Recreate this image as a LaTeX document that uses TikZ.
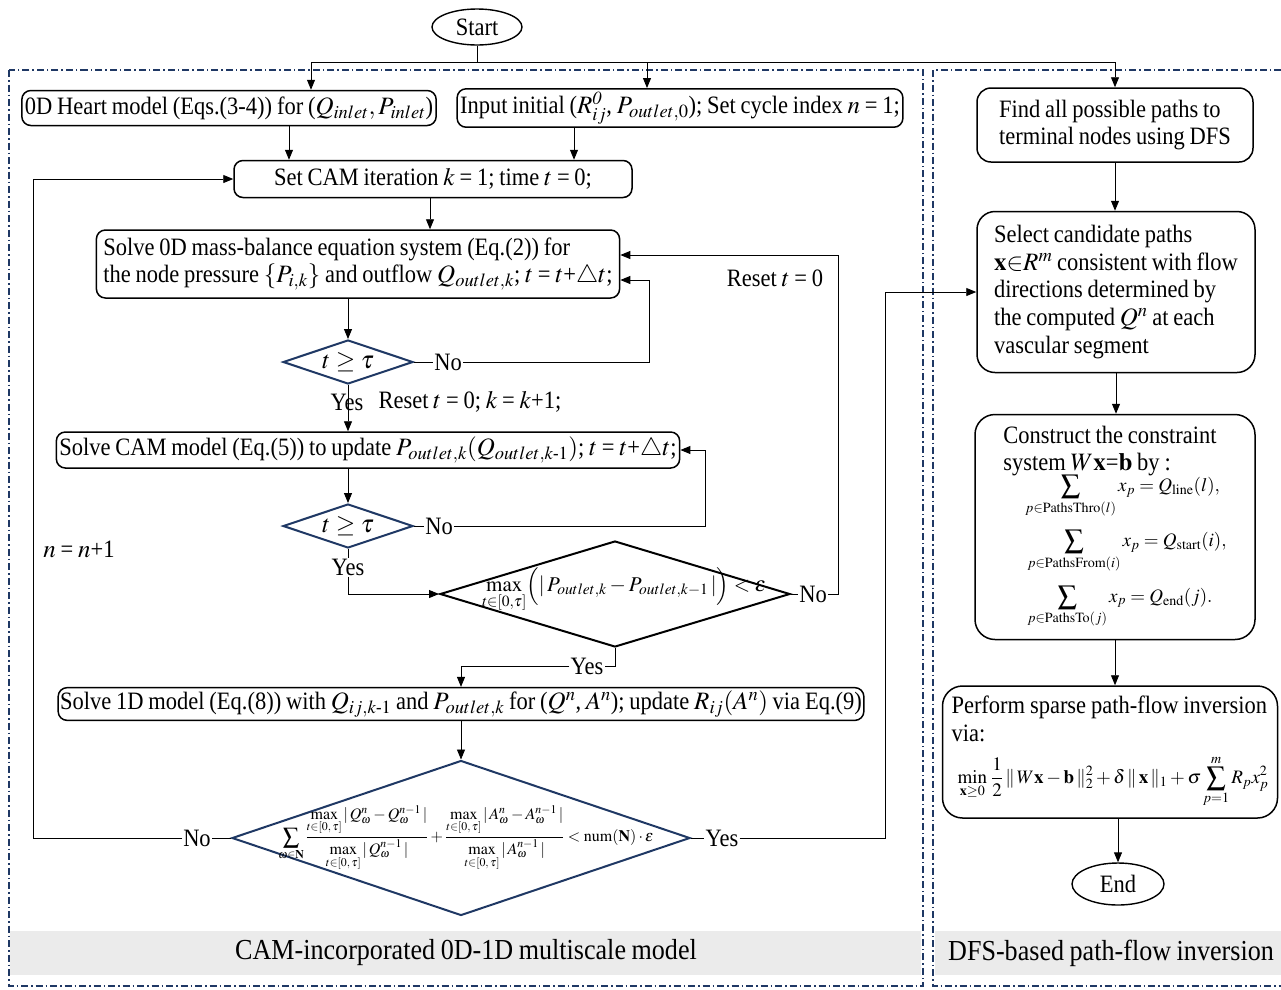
\documentclass[tikz,border=0pt]{standalone}
\usepackage{amsmath}
\usepackage{mathptmx}
\usepackage{fontspec}
\setmainfont{Liberation Serif}[FakeStretch=0.9, WordSpace=0.85]
\usetikzlibrary{shapes.geometric,arrows.meta,calc}
\definecolor{navy}{HTML}{1F3864}
\definecolor{bandgray}{HTML}{EBEBEB}
\begin{document}
\begin{tikzpicture}[x=1pt,y=-1pt,
  every node/.style={font=\fontsize{25}{27.7}\selectfont},
  box/.style={draw, rounded corners=9pt, line width=1.5pt, inner xsep=3pt, inner ysep=3pt},
  dia/.style={diamond, draw=navy, line width=2pt, inner sep=0pt},
  term/.style={ellipse, draw, line width=1.4pt, inner sep=0pt},
  arr/.style={-{Triangle[length=10pt,width=8pt]}, line width=0.9pt},
  ln/.style={line width=0.9pt},
  frame/.style={draw=navy, line width=1.3pt, dash pattern=on 7pt off 3pt on 1.5pt off 3pt},
  captxt/.style={font=\fontsize{29}{32}\selectfont},
  lab/.style={inner sep=1pt}]
\useasboundingbox (0,0) rectangle (1281,989);
% bands and frames
\fill[bandgray] (10,931) rectangle (921,975);
\fill[bandgray] (935,931) rectangle (1281,975);
\draw[frame] (9,70) rectangle (923,986);
\draw[frame] (1281,70) -- (933,70) -- (933,986) -- (1281,986);
\node[captxt] (capL) at (466,953) {CAM-incorporated 0D-1D multiscale model};
\node[captxt] (capR) at (1111,953) {DFS-based path-flow inversion};
% helper coordinates
\coordinate (jL) at (311,62);
\coordinate (jM) at (647,62);
\coordinate (jR) at (1115,62);
\coordinate (xA) at (289,0);
\coordinate (xB) at (574,0);
\coordinate (xC) at (430,0);
% left column nodes
\node[term, minimum width=90, minimum height=36] (start) at (477,27) {Start};
\node[box, minimum height=35] (b1) at (229,108) {0D Heart model (Eqs.(3-4)) for ($Q_{inlet}, P_{inlet}$)};
\node[box, minimum height=35] (b2) at (680,108) {Input initial ($R^{\mathit{0}}_{ij}$, $P_{outlet,0}$); Set cycle index $n$ = 1;};
\node[box, minimum width=398, minimum height=37] (b3) at (433,179) {Set CAM iteration $k$ = 1; time $t$ = 0;};
\node[box, align=left, inner xsep=7pt, minimum height=68] (b4) at (358,264) {Solve 0D mass-balance equation system (Eq.(2)) for\\the node pressure $\{P_{i,k}\}$ and outflow $Q_{outlet,k}$; $t$ = $t$+$\triangle t$;};
\node[dia, minimum width=130, minimum height=44] (d1) at (348,362) {};
\node (d1t) at (d1) {$t\geq\tau$};
\node[box, minimum height=36] (b5) at (368,450) {Solve CAM model (Eq.(5)) to update $P_{outlet,k}(Q_{outlet,k\text{-}1})$; $t$ = $t$+$\triangle t$;};
\node[dia, minimum width=130, minimum height=44] (d2) at (348,526) {};
\node (d2t) at (d2) {$t\geq\tau$};
\node[dia, draw=black, minimum width=350, minimum height=106] (d3) at (615,594) {};
\node[font=\fontsize{21}{25}\selectfont] (d3t) at (624,590) {$\displaystyle\max_{t\in[0,\tau]}\Bigl(|\,P_{outlet,k}-P_{outlet,k-1}\,|\Bigr)<\varepsilon$};
\node[box, minimum height=32, inner xsep=2pt] (b6) at (461,704) {Solve 1D model (Eq.(8)) with $Q_{ij,k\text{-}1}$ and $P_{outlet,k}$ for ($Q^n$, $A^n$); update $R_{ij}(A^n)$ via Eq.(9)};
\node[dia, minimum width=458, minimum height=155] (d4) at (461,838) {};
\node[font=\fontsize{16}{19}\selectfont] (d4t) at (466,838) {$\displaystyle\sum_{\omega\in\mathbf{N}}\frac{\max\limits_{t\in[0,\,\tau]}|\,Q^{n}_{\omega}-Q^{n-1}_{\omega}\,|}{\max\limits_{t\in[0,\,\tau]}|\,Q^{n-1}_{\omega}\,|}+\frac{\max\limits_{t\in[0,\,\tau]}|\,A^{n}_{\omega}-A^{n-1}_{\omega}\,|}{\max\limits_{t\in[0,\,\tau]}|\,A^{n-1}_{\omega}\,|}<\mathrm{num}(\mathbf{N})\cdot\varepsilon$};
% labels
\node[lab] (no1) at (448,362) {No};
\node[lab] (yes1) at (347,402) {Yes};
\node[lab] (reset1) at (470,402) {Reset $t$ = 0; $k$ = $k$+1;};
\node[lab] (no2) at (439,526) {No};
\node[lab] (yes2) at (348,567) {Yes};
\node[lab] (no3) at (813,594) {No};
\node[lab] (yes3) at (587,666) {Yes};
\node[lab] (reset2) at (775,278) {Reset $t$ = 0};
\node[lab] (no4) at (197,838) {No};
\node[lab] (yes4) at (722,838) {Yes};
\node[lab] (ninc) at (79,549) {$n$ = $n$+1};
% right column
\node[box, align=left, rounded corners=14pt, minimum width=276, minimum height=74] (r1) at (1115,125) {Find all possible paths to\\terminal nodes using DFS};
\node[box, align=left, rounded corners=18pt, minimum width=278, minimum height=161] (r2) at (1116,292) {Select candidate paths\\$\mathbf{x}{\in}R^{m}$ consistent with flow\\directions determined by\\the computed $Q^{n}$ at each\\vascular segment};
\node[box, align=left, rounded corners=20pt, minimum width=280, minimum height=225] (r3) at (1115,527) {Construct the constraint\\system $W\mathbf{x}$=$\mathbf{b}$ by :\\[-2pt]
\hspace*{22pt}{\fontsize{19}{22}\selectfont$\begin{array}{@{}l@{}}
\displaystyle\sum_{p\in\mathrm{PathsThro}(l)} x_p=Q_{\mathrm{line}}(l),\\
\rule{0pt}{29pt}\displaystyle\sum_{p\in\mathrm{PathsFrom}(i)} x_p=Q_{\mathrm{start}}(i),\\
\rule{0pt}{29pt}\displaystyle\sum_{p\in\mathrm{PathsTo}(j)} x_p=Q_{\mathrm{end}}(j).
\end{array}$}};
\node[box, align=left, rounded corners=20pt, minimum width=335, minimum height=132] (r4) at (1110,752) {Perform sparse path-flow inversion\\via:\\[12pt]
{\fontsize{19}{22}\selectfont\hspace*{6pt}$\displaystyle\min_{\mathbf{x}\geq0}\,\frac{1}{2}\,\|\,W\mathbf{x}-\mathbf{b}\,\|_2^2+\delta\,\|\,\mathbf{x}\,\|_1+\sigma\sum_{p=1}^{m}R_px_p^2$}};
\node[term, minimum width=92, minimum height=42] (end) at (1118,884) {End};
% connectors
\draw[ln] (start.south) |- (jL);
\draw[ln] (start.south) |- (jR);
\draw[arr] (jL) -- (jL |- b1.north);
\draw[arr] (jM) -- (jM |- b2.north);
\draw[arr] (jR) -- (jR |- r1.north);
\draw[arr] (xA |- b1.south) -- (xA |- b3.north);
\draw[arr] (xB |- b2.south) -- (xB |- b3.north);
\draw[arr] (xC |- b3.south) -- (xC |- b4.north);
\draw[arr] (d1.north |- b4.south) -- (d1.north);
\draw[ln] (d1.east) -- (no1.west);
\draw[arr] (no1.east) -- (649,362) |- ($(b4.east)+(0,16)$);
\draw[arr] (d1.south) -- (d1.south |- b5.north);
\draw[arr] (d2.north |- b5.south) -- (d2.north);
\draw[ln] (d2.east) -- (no2.west);
\draw[arr] (no2.east) -- (705,526) |- (b5.east);
\draw[ln] (d2.south) -- (yes2.north);
\draw[arr] (yes2.south) |- (d3.west);
\draw[ln] (d3.east) -- (no3.west);
\draw[arr] (no3.east) -- (838,594) |- ($(b4.east)+(0,-9)$);
\draw[ln] (d3.south) |- (yes3.east);
\draw[arr] (yes3.west) -| (b6.north);
\draw[arr] (b6.south) -- (d4.north);
\draw[ln] (d4.west) -- (no4.east);
\draw[arr] (no4.west) -- (33,838) |- (b3.west);
\draw[ln] (d4.east) -- (yes4.west);
\draw[arr] (yes4.east) -- (885,838) |- (r2.west);
\draw[arr] (r1.south) -- (r1.south |- r2.north);
\draw[arr] (r2.south) -- (r2.south |- r3.north);
\draw[arr] (r3.south) -- (r3.south |- r4.north);
\draw[arr] (r4.south -| end.north) -- (end.north);
\end{tikzpicture}
\end{document}
